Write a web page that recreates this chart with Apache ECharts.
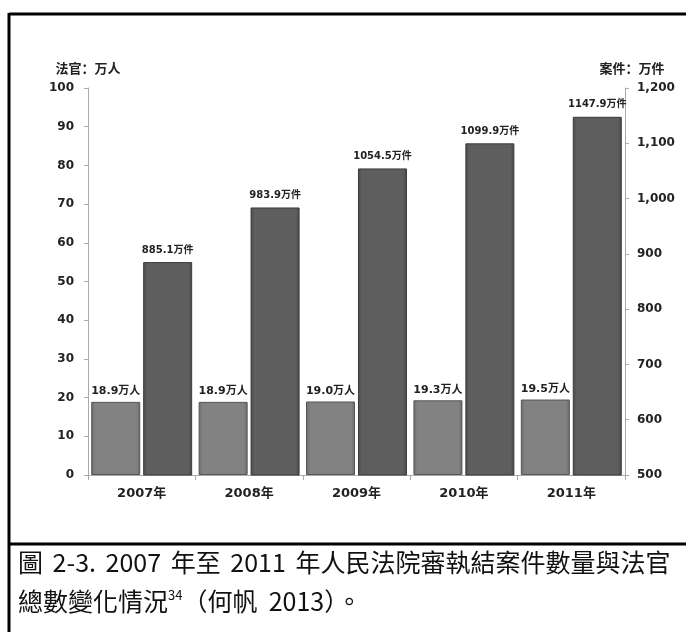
<!DOCTYPE html>
<html>
<head>
<meta charset="utf-8">
<script src="https://cdn.jsdelivr.net/npm/echarts@6/dist/echarts.min.js"></script>
<style>
  html, body { margin: 0; padding: 0; background: #fff; }
  #main { width: 686px; height: 632px; }
</style>
</head>
<body>
<div id="main"></div>
<script>
// years on the category axis
var years = ['2007年', '2008年', '2009年', '2010年', '2011年'];
// judges, 万人 (left axis)
var judges = [18.9, 18.9, 19.0, 19.3, 19.5];
// cases closed, 万件 (right axis)
var cases = [885.1, 983.9, 1054.5, 1099.9, 1147.9];

// caption words, split at the spaces
var caption1 = ['圖', '2-3.', '2007', '年至', '2011', '年人民法院審執結案件數量與法官'];
var caption2 = ['總數變化情況', '34', '（何帆  2013）。'];

var myChart = echarts.init(document.getElementById('main'));

var tickFont = {
    color: '#222',
    fontSize: 12,
    fontWeight: 'bold',
    fontFamily: 'DejaVu Sans, Noto Sans CJK SC'
};

var line1 = caption1.map(function (w) { return '{a|' + w + '}'; }).join('{g| }');
var line2 = '{a|' + caption2[0] + '}{s|' + caption2[1] + '}{a|' + caption2[2] + '}';

var option = {
    backgroundColor: '#fff',
    animation: false,
    grid: {
        left: 88,
        right: 61,
        top: 88,
        bottom: 157
    },
    xAxis: {
        type: 'category',
        data: years,
        axisLine: { lineStyle: { color: '#aaa' } },
        axisTick: { show: true, length: 5, lineStyle: { color: '#aaa' } },
        axisLabel: {
            color: '#222',
            fontSize: 13,
            fontWeight: 'bold',
            fontFamily: 'DejaVu Sans, Noto Sans CJK SC',
            margin: 12
        }
    },
    yAxis: [
        {
            type: 'value',
            min: 0,
            max: 100,
            interval: 10,
            name: '法官：万人',
            nameLocation: 'end',
            nameGap: 13,
            nameTextStyle: {
                color: '#222', fontSize: 13, fontWeight: 'bold',
                fontFamily: 'Noto Sans CJK SC', align: 'center'
            },
            axisLine: { show: true, lineStyle: { color: '#aaa' } },
            axisTick: { show: true, length: 4, lineStyle: { color: '#aaa' } },
            splitLine: { show: false },
            axisLabel: Object.assign({ margin: 14 }, tickFont)
        },
        {
            type: 'value',
            min: 500,
            max: 1200,
            interval: 100,
            position: 'right',
            name: '案件：万件',
            nameLocation: 'end',
            nameGap: 13,
            nameTextStyle: {
                color: '#222', fontSize: 13, fontWeight: 'bold',
                fontFamily: 'Noto Sans CJK SC', align: 'center',
                padding: [0, 0, 0, 14]
            },
            axisLine: { show: true, lineStyle: { color: '#aaa' } },
            axisTick: { show: true, length: 4, lineStyle: { color: '#aaa' } },
            splitLine: { show: false },
            axisLabel: Object.assign({
                margin: 12,
                formatter: function (v) {
                    return v >= 1000 ? Math.floor(v / 1000) + ',' + String(v % 1000).padStart(3, '0') : String(v);
                }
            }, tickFont)
        }
    ],
    series: [
        {
            name: '法官',
            type: 'bar',
            yAxisIndex: 0,
            data: judges,
            barWidth: 49,
            barGap: '6%',
            itemStyle: {
                color: new echarts.graphic.LinearGradient(0, 0, 1, 0, [
                    { offset: 0, color: '#6c6c6c' },
                    { offset: 0.08, color: '#828282' },
                    { offset: 0.92, color: '#828282' },
                    { offset: 1, color: '#6a6a6a' }
                ]),
                borderColor: '#555',
                borderWidth: 1
            },
            label: {
                show: true,
                position: 'top',
                distance: 5,
                color: '#222',
                fontSize: 11,
                fontWeight: 'bold',
                fontFamily: 'DejaVu Sans, Noto Sans CJK SC',
                formatter: function (p) { return p.value.toFixed(1) + '万人'; }
            }
        },
        {
            name: '案件',
            type: 'bar',
            yAxisIndex: 1,
            data: cases,
            barWidth: 49,
            itemStyle: {
                color: new echarts.graphic.LinearGradient(0, 0, 1, 0, [
                    { offset: 0, color: '#4a4a4a' },
                    { offset: 0.08, color: '#5e5e5e' },
                    { offset: 0.92, color: '#5e5e5e' },
                    { offset: 1, color: '#484848' }
                ]),
                borderColor: '#3a3a3a',
                borderWidth: 1
            },
            label: {
                show: true,
                position: 'top',
                distance: 7,
                color: '#222',
                fontSize: 10,
                fontWeight: 'bold',
                fontFamily: 'DejaVu Sans, Noto Sans CJK SC',
                formatter: function (p) { return p.value.toFixed(1) + '万件'; }
            }
        }
    ],
    graphic: [
        // frame lines
        { type: 'line', shape: { x1: 9, y1: 14, x2: 686, y2: 14 }, style: { stroke: '#000', lineWidth: 3 } },
        { type: 'line', shape: { x1: 9, y1: 13, x2: 9, y2: 632 }, style: { stroke: '#000', lineWidth: 3 } },
        { type: 'line', shape: { x1: 9, y1: 544, x2: 686, y2: 544 }, style: { stroke: '#000', lineWidth: 3 } },
        // caption
        {
            type: 'text',
            left: 18,
            top: 550,
            style: {
                text: line1,
                rich: {
                    a: { fill: '#111', fontSize: 25, fontFamily: 'Noto Sans CJK TC' },
                    g: { fill: '#111', fontSize: 25, fontFamily: 'Noto Sans CJK TC', padding: [0, 2, 0, 2] }
                }
            }
        },
        {
            type: 'text',
            left: 18,
            top: 589,
            style: {
                text: line2,
                rich: {
                    a: { fill: '#111', fontSize: 25, fontFamily: 'Noto Sans CJK TC' },
                    s: { fill: '#111', fontSize: 13, fontFamily: 'Noto Sans CJK TC', verticalAlign: 'top', padding: [0, 0, 12, 0] }
                }
            }
        }
    ]
};

myChart.setOption(option);
</script>
</body>
</html>
